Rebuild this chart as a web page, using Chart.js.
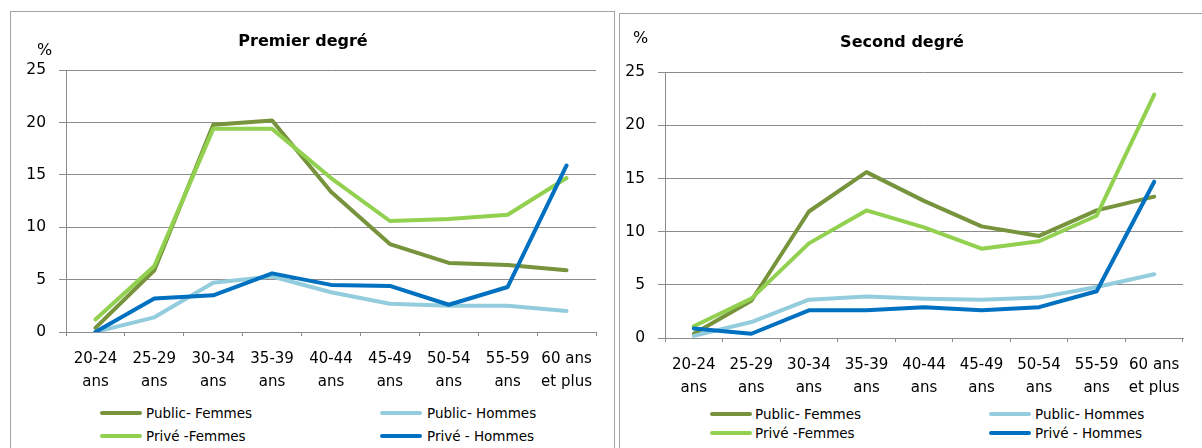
<!DOCTYPE html>
<html>
<head>
<meta charset="utf-8">
<script src="https://cdn.jsdelivr.net/npm/chart.js@4.4.1/dist/chart.umd.min.js"></script>
<style>
    body { margin: 0; background: #fff; width: 1202px; height: 448px; overflow: hidden; position: relative; font-family: 'DejaVu Sans', sans-serif; color: #000; }
    .panel { position: absolute; border: 1.5px solid #a3a3a3; box-sizing: border-box; }
    #p1 { left: 10px; top: 11px; width: 605px; height: 470px; }
    #p2 { left: 619px; top: 13px; width: 600px; height: 470px; }
    canvas { position: absolute; }
    .pct { position: absolute; font-size: 16px; line-height: 20px; }
    .legLine { position: absolute; height: 4px; width: 42px; border-radius: 2px; }
    .legText { position: absolute; font-size: 13.5px; line-height: 18px; white-space: nowrap; }
</style>
</head>
<body>
<div class="panel" id="p1"></div>
<div class="panel" id="p2"></div>
<canvas id="c1" width="600" height="380" style="left:10px;top:12px"></canvas>
<canvas id="c2" width="592" height="384" style="left:621px;top:14px"></canvas>
<div class="pct" style="left:37px;top:40px">%</div>
<div class="pct" style="left:633px;top:28px">%</div>
<div id="legends"></div>

<script>
// Tranches d'âge (axe des x)
const ageLabels = [['20-24', 'ans'], ['25-29', 'ans'], ['30-34', 'ans'], ['35-39', 'ans'], ['40-44', 'ans'],
                   ['45-49', 'ans'], ['50-54', 'ans'], ['55-59', 'ans'], ['60 ans', 'et plus']];
const yTicks = [0, 5, 10, 15, 20, 25];

const seriesNames = ['Public- Femmes', 'Public- Hommes', 'Privé -Femmes', 'Privé - Hommes'];
const seriesColors = ['#77933C', '#93CDDD', '#92D050', '#0070C0'];

// Premier degré (%)
const premierPublicFemmes = [0.4, 5.9, 19.8, 20.2, 13.4, 8.4, 6.6, 6.4, 5.9];
const premierPublicHommes = [0.0, 1.4, 4.7, 5.3, 3.8, 2.7, 2.5, 2.5, 2.0];
const premierPriveFemmes = [1.2, 6.3, 19.4, 19.4, 14.7, 10.6, 10.8, 11.2, 14.7];
const premierPriveHommes = [0.0, 3.2, 3.5, 5.6, 4.5, 4.4, 2.6, 4.3, 15.9];

// Second degré (%)
const secondPublicFemmes = [0.4, 3.5, 11.9, 15.6, 12.9, 10.5, 9.6, 12.0, 13.3];
const secondPublicHommes = [0.2, 1.5, 3.6, 3.9, 3.7, 3.6, 3.8, 4.8, 6.0];
const secondPriveFemmes = [1.1, 3.7, 8.9, 12.0, 10.4, 8.4, 9.1, 11.5, 22.9];
const secondPriveHommes = [0.9, 0.4, 2.6, 2.6, 2.9, 2.6, 2.9, 4.4, 14.7];

const gridColor = '#8c8c8c';
const fontFamily = "'DejaVu Sans', sans-serif";

function makeDatasets(series) {
    // ordre de tracé : Privé - Hommes au-dessus
    return series.map((values, i) => ({
        label: seriesNames[i],
        data: values,
        borderColor: seriesColors[i],
        backgroundColor: seriesColors[i],
        borderWidth: 4,
        pointRadius: 0,
        tension: 0,
        fill: false,
        borderJoinStyle: 'round',
        borderCapStyle: 'round',
        order: series.length - i
    }));
}

function makeChart(id, title, series, yWidth, padRight, titlePad) {
    const ctx = document.getElementById(id).getContext('2d');
    return new Chart(ctx, {
        type: 'line',
        data: {
            labels: ageLabels,
            datasets: makeDatasets(series)
        },
        options: {
            responsive: false,
            animation: false,
            devicePixelRatio: 1,
            layout: { padding: { left: 0, right: padRight, top: 0, bottom: 0 } },
            plugins: {
                legend: { display: false },
                tooltip: { enabled: false },
                title: {
                    display: true,
                    text: title,
                    color: '#000',
                    font: { family: fontFamily, size: 16, weight: 'bold', lineHeight: 1.2 },
                    padding: titlePad
                }
            },
            scales: {
                x: {
                    type: 'category',
                    offset: true,
                    afterFit: scale => { scale.height = 60; },
                    grid: { offset: true, drawOnChartArea: false, drawTicks: true, tickLength: 4, color: gridColor },
                    border: { color: gridColor, width: 1 },
                    ticks: {
                        color: '#000',
                        padding: 12,
                        maxRotation: 0,
                        autoSkip: false,
                        font: { family: fontFamily, size: 15, lineHeight: 1.5 }
                    }
                },
                y: {
                    min: yTicks[0],
                    max: yTicks[yTicks.length - 1],
                    afterFit: scale => { scale.width = yWidth; },
                    afterBuildTicks: scale => { scale.ticks = yTicks.map(v => ({ value: v })); },
                    grid: { color: gridColor, lineWidth: 1, tickLength: 7 },
                    border: { color: gridColor, width: 1 },
                    ticks: {
                        color: '#000',
                        padding: 13,
                        font: { family: fontFamily, size: 15.5 }
                    }
                }
            }
        }
    });
}

makeChart('c1', 'Premier degré',
    [premierPublicFemmes, premierPublicHommes, premierPriveFemmes, premierPriveHommes],
    56, 14, { top: 20, bottom: 19 });
makeChart('c2', 'Second degré',
    [secondPublicFemmes, secondPublicHommes, secondPriveFemmes, secondPriveHommes],
    44, 30, { top: 19, bottom: 20 });

// Légendes (2 colonnes, 2 lignes)
function addLegend(lineX, textX, rowY) {
    const box = document.getElementById('legends');
    const order = [[0, 0, 0], [1, 1, 0], [2, 0, 1], [3, 1, 1]]; // [série, colonne, ligne]
    order.forEach(([s, col, row]) => {
        const line = document.createElement('div');
        line.className = 'legLine';
        line.style.left = lineX[col] + 'px';
        line.style.top = (rowY[row] - 2) + 'px';
        line.style.background = seriesColors[s];
        box.appendChild(line);
        const txt = document.createElement('div');
        txt.className = 'legText';
        txt.textContent = seriesNames[s];
        txt.style.left = textX[col] + 'px';
        txt.style.top = (rowY[row] - 9) + 'px';
        box.appendChild(txt);
    });
}
addLegend([100, 380], [146, 427], [413, 436]);
addLegend([710, 989], [755, 1035], [414, 433]);
</script>
</body>
</html>
